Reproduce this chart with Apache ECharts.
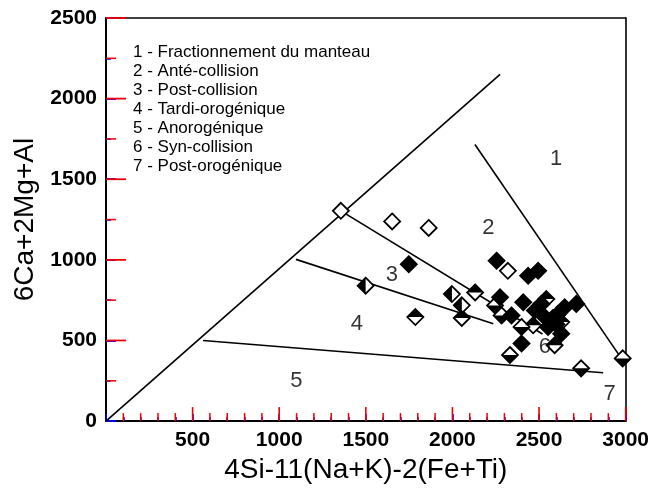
<!DOCTYPE html>
<html>
<head>
<meta charset="utf-8">
<script src="https://cdn.jsdelivr.net/npm/echarts@6/dist/echarts.min.js"></script>
<style>
html,body{margin:0;padding:0;background:#fff;}
#chart{width:652px;height:489px;}
</style>
</head>
<body>
<div id="chart"></div>
<script>
// ---- Data ----
const xTitle = '4Si-11(Na+K)-2(Fe+Ti)';
const yTitle = '6Ca+2Mg+Al';
const legendLines = [
  '1 - Fractionnement du manteau',
  '2 - Anté-collision',
  '3 - Post-collision',
  '4 - Tardi-orogénique',
  '5 - Anorogénique',
  '6 - Syn-collision',
  '7 - Post-orogénique'
];
const xMajorTicks = [500, 1000, 1500, 2000, 2500, 3000];
const xMinorTicks = [100, 200, 300, 400, 600, 700, 800, 900, 1100, 1200, 1300, 1400,
  1600, 1700, 1800, 1900, 2100, 2200, 2300, 2400, 2600, 2700, 2800, 2900];
const yMajorTicks = [500, 1000, 1500, 2000, 2500];
const yMinorTicks = [250, 750, 1250, 1750, 2250];
const lineA = [[0, 0], [2275, 2150]];
const lineB = [[2130, 1715], [3000, 350]];
const lineC = [[1356, 1304], [2520, 540]];
const lineD = [[1097, 1003], [2236, 604]];
const lineE = [[560, 500], [2870, 300]];
const fieldLabels = [
  ['1', 2598, 1628], ['2', 2207, 1198], ['3', 1650, 909], ['4', 1449, 602],
  ['5', 1099, 246], ['6', 2534, 461], ['7', 2908, 166]
];
const openPts = [[1356, 1304], [1652, 1238], [1863, 1198], [2320, 932]];
const filledPts = [
  [1748, 973], [2255, 995], [2437, 901], [2495, 932], [2275, 768], [2341, 655],
  [2409, 737], [2533, 645], [2610, 665], [2552, 584], [2628, 542], [2399, 481],
  [2715, 727], [2476, 686], [2514, 727], [2648, 706], [2580, 640], [2600, 600]
];
const topFilledPts = [[1786, 645], [2131, 798], [2542, 757], [2466, 594], [2628, 614], [2590, 471], [2054, 640]];
const leftFilledPts = [[1499, 840], [1997, 788], [2054, 718]];
const bottomFilledPts = [[2246, 717], [2284, 655], [2399, 584], [2332, 410], [2743, 327], [2983, 389]];

const FONT = '"Liberation Sans", Arial, sans-serif';
const chart = echarts.init(document.getElementById('chart'));
const S = 16;
const lineSeries = (d) => ({
  type: 'line', data: d, symbol: 'none', silent: true,
  lineStyle: {color: '#000', width: 1.6}, z: 2
});
const outline = (d) => ({
  type: 'scatter', data: d, symbol: 'diamond', symbolSize: S,
  itemStyle: {color: '#fff', borderColor: '#000', borderWidth: 1.8, opacity: 1}, z: 3
});
const halfFill = (d, path, size, offset) => ({
  type: 'scatter', data: d, symbol: path, symbolSize: size, symbolOffset: offset,
  itemStyle: {color: '#000', opacity: 1}, z: 4
});
const tickSeries = (vals, isX, len, w) => ({
  type: 'custom', silent: true, clip: false, z: 7,
  data: vals.map(v => isX ? [v, 0] : [0, v]),
  renderItem: (params, api) => {
    const p = api.coord([api.value(0), api.value(1)]);
    const shape = isX
      ? {x1: p[0], y1: p[1], x2: p[0], y2: p[1] - len}
      : {x1: p[0], y1: p[1], x2: p[0] + len, y2: p[1]};
    return {type: 'line', shape: shape, style: {stroke: '#e00', lineWidth: w}};
  }
});
const frameAxis = (pos, isX) => ({
  type: 'value', position: pos, min: 0, max: isX ? 3000 : 2500,
  axisLine: {show: true, onZero: false, lineStyle: {color: '#000', width: 1.6}},
  axisTick: {show: false}, axisLabel: {show: false}, splitLine: {show: false}
});
const option = {
  animation: false,
  backgroundColor: '#fff',
  grid: {left: 106, right: 24, top: 18, bottom: 64, show: false},
  xAxis: [{
    type: 'value', min: 0, max: 3000, interval: 500, position: 'bottom',
    name: xTitle, nameLocation: 'middle', nameGap: 28,
    nameTextStyle: {fontFamily: FONT, fontSize: 28, color: '#000'},
    axisLine: {show: true, onZero: false, lineStyle: {color: '#000', width: 1.8}},
    axisTick: {show: true, inside: true, length: 7, lineStyle: {color: '#00f', width: 1.6}},
    minorTick: {show: true, splitNumber: 5, length: 4, lineStyle: {color: '#00f', width: 1.5}},
    splitLine: {show: false},
    axisLabel: {fontFamily: FONT, fontSize: 21, fontWeight: 'bold', color: '#000', margin: 9,
      formatter: v => v === 0 ? '' : String(v)}
  }, frameAxis('top', true)],
  yAxis: [{
    type: 'value', min: 0, max: 2500, interval: 500, position: 'left',
    name: yTitle, nameLocation: 'middle', nameGap: 66,
    nameTextStyle: {fontFamily: FONT, fontSize: 28, color: '#000'},
    axisLine: {show: true, onZero: false, lineStyle: {color: '#000', width: 2}},
    axisTick: {show: true, inside: true, length: 10, lineStyle: {color: '#00f', width: 1.8}},
    minorTick: {show: true, splitNumber: 2, length: 5, lineStyle: {color: '#00f', width: 1.5}},
    splitLine: {show: false},
    axisLabel: {fontFamily: FONT, fontSize: 21, fontWeight: 'bold', color: '#000', margin: 9,
      formatter: v => String(v)}
  }, frameAxis('right', false)],
  graphic: [{
    type: 'text', left: 133, top: 43,
    style: {text: legendLines.join('\n'), font: '17px ' + FONT, fill: '#000', lineHeight: 19}
  }],
  series: [
    tickSeries(xMajorTicks, true, 14, 1.6), tickSeries(xMinorTicks, true, 8, 1.5),
    tickSeries(yMajorTicks, false, 20, 1.8), tickSeries(yMinorTicks, false, 10, 1.5),
    lineSeries(lineA), lineSeries(lineB), lineSeries(lineC), lineSeries(lineD), lineSeries(lineE),
    outline(openPts),
    outline(topFilledPts), halfFill(topFilledPts, 'path://M1,0L2,1L0,1Z', [S, S / 2], [0, -S / 4]),
    outline(bottomFilledPts), halfFill(bottomFilledPts, 'path://M0,0L2,0L1,1Z', [S, S / 2], [0, S / 4]),
    outline(leftFilledPts), halfFill(leftFilledPts, 'path://M1,0L1,2L0,1Z', [S / 2, S], [-S / 4, 0]),
    {
      type: 'scatter', data: filledPts, symbol: 'diamond', symbolSize: S,
      itemStyle: {color: '#000', borderColor: '#000', borderWidth: 1.8, opacity: 1}, z: 5
    },
    {
      type: 'scatter', symbolSize: 1, silent: true,
      itemStyle: {color: 'rgba(0,0,0,0)'},
      data: fieldLabels.map(f => ({name: f[0], value: [f[1], f[2]]})),
      label: {show: true, position: 'inside', formatter: p => p.name,
        fontFamily: FONT, fontSize: 22, color: '#000'},
      z: 6
    }
  ]
};
chart.setOption(option);
</script>
</body>
</html>
